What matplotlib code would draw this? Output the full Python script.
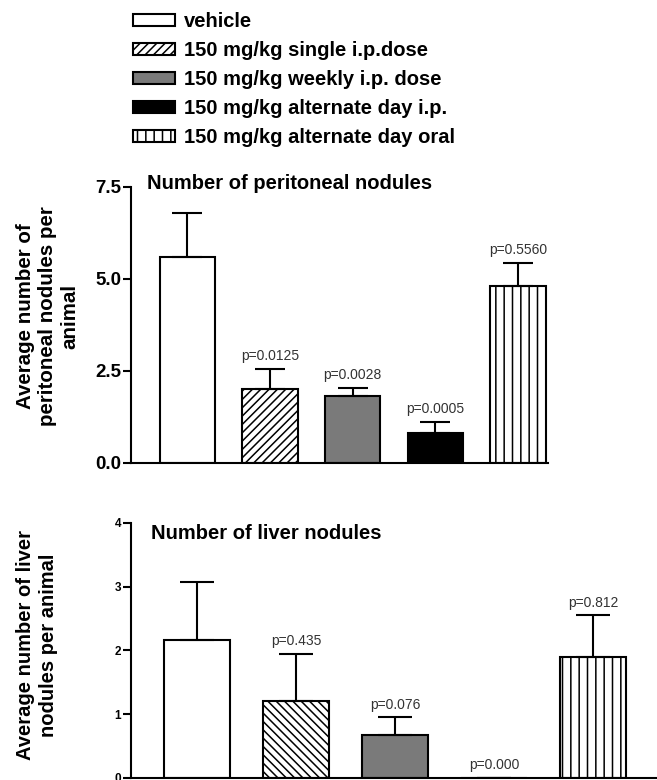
import matplotlib.pyplot as plt
import matplotlib.patches as mpatches
import numpy as np

plt.rcParams['font.family'] = ['Liberation Sans', 'DejaVu Sans']
plt.rcParams['hatch.linewidth'] = 1.1

# groups
groups = ['vehicle', '150 mg/kg single i.p.dose', '150 mg/kg weekly i.p. dose',
          '150 mg/kg alternate day i.p.', '150 mg/kg alternate day oral']

# peritoneal nodules (mean, sem)
perit_mean = [5.58, 2.01, 1.80, 0.81, 4.81]
perit_err = [1.21, 0.54, 0.24, 0.30, 0.62]
perit_p = ['', 'p=0.0125', 'p=0.0028', 'p=0.0005', 'p=0.5560']

# liver nodules (mean, sem)
liver_mean = [2.16, 1.21, 0.68, 0.0, 1.89]
liver_err = [0.91, 0.74, 0.27, 0.0, 0.66]
liver_p = ['', 'p=0.435', 'p=0.076', 'p=0.000', 'p=0.812']

colors = ['white', 'white', '#7a7a7a', 'black', 'white']
hatch_top = [None, '////', None, None, '||']
hatch_bot = [None, '\\\\\\\\', None, None, '||']

fig = plt.figure(figsize=(6.57, 7.8), dpi=100)

def draw_panel(ax, means, errs, pvals, hatches, ymax, ticks, ticklabels, tickfs, capsize, title, title_y):
    x = np.arange(len(means))
    lower = np.zeros(len(means))
    ax.bar(x, means, width=0.67, color=colors, edgecolor='black', linewidth=1.5,
           hatch=hatches, yerr=[lower, errs], capsize=capsize,
           error_kw=dict(elinewidth=1.5, capthick=1.5, ecolor='black'), zorder=2)
    for xi, m, e, p in zip(x, means, errs, pvals):
        if p:
            ax.annotate(p, (xi, m + e), xytext=(0, 4), textcoords='offset points',
                        ha='center', va='bottom', fontsize=10, color='#333333')
    ax.set_ylim(0, ymax)
    ax.set_yticks(ticks)
    ax.set_yticklabels(ticklabels, fontsize=tickfs, fontweight='bold')
    ax.set_xticks([])
    ax.spines['top'].set_visible(False)
    ax.spines['right'].set_visible(False)
    ax.spines['left'].set_linewidth(1.5)
    ax.spines['bottom'].set_linewidth(1.5)
    ax.tick_params(axis='y', length=6, width=1.5, pad=1)
    ax.text(0.038, title_y, title, transform=ax.transAxes, ha='left', va='center',
            fontsize=14.5, fontweight='bold')

# top panel
ax1 = fig.add_axes([131 / 657, 1 - 462.7 / 780, 417 / 657, 276 / 780])
draw_panel(ax1, perit_mean, perit_err, perit_p, hatch_top, 7.5,
           [0, 2.5, 5.0, 7.5], ['0.0', '2.5', '5.0', '7.5'], 13.5, 10.5,
           'Number of peritoneal nodules', 1.013)
ax1.set_xlim(-0.68, 4.36)

# bottom panel
ax2 = fig.add_axes([131 / 657, 1 - 778 / 780, 526 / 657, 255.3 / 780])
draw_panel(ax2, liver_mean, liver_err, liver_p, hatch_bot, 4,
           [0, 1, 2, 3, 4], ['0', '1', '2', '3', '4'], 8.5, 12.5,
           'Number of liver nodules', 0.958)
ax2.set_xlim(-0.667, 4.646)

fig.text(48 / 657, 1 - 316 / 780, 'Average number of\nperitoneal nodules per\nanimal',
         rotation=90, ha='center', va='center', fontsize=14.8, fontweight='bold',
         multialignment='center', linespacing=1.2)
fig.text(37 / 657, 1 - 645 / 780, 'Average number of liver\nnodules per animal',
         rotation=90, ha='center', va='center', fontsize=14.5, fontweight='bold',
         multialignment='center', linespacing=1.25)

# legend
handles = []
for c, h in zip(colors, hatch_top):
    handles.append(mpatches.Patch(facecolor=c, edgecolor='black', linewidth=1.5, hatch=h))
fig.legend(handles, groups, loc='upper left', bbox_to_anchor=(133 / 657, 1 - 12 / 780),
           frameon=False, borderaxespad=0, borderpad=0, handlelength=2.1,
           handleheight=0.52, handletextpad=0.45, labelspacing=0.5,
           prop=dict(size=14.5, weight='bold'))

fig.savefig('out.png', dpi=100)
